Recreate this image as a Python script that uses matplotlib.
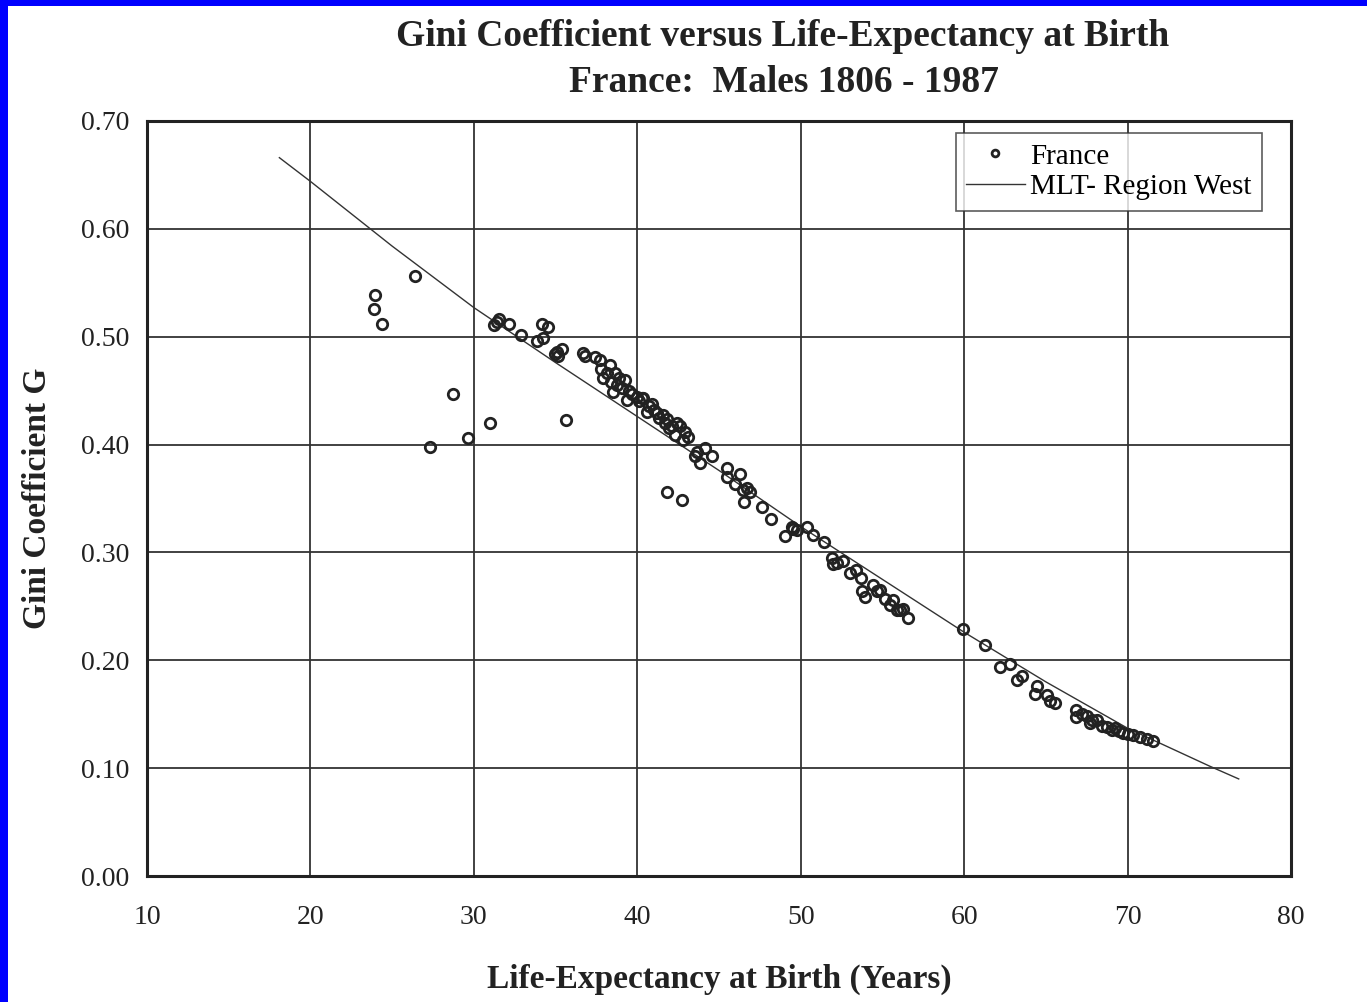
import matplotlib
matplotlib.use("Agg")
import matplotlib.pyplot as plt
from matplotlib.patches import Rectangle

# ---- data ----
france_e0 = [23.95, 23.89, 24.40, 26.40, 27.33, 28.70, 29.62, 30.99, 31.25, 31.40,
             31.55, 32.15, 32.88, 33.84, 34.14, 34.25, 34.55, 34.96, 35.17, 35.37,
             35.10, 35.64, 36.66, 36.80, 37.41, 37.72, 37.78, 37.90, 38.13, 38.33,
             38.40, 38.53, 38.64, 38.75, 38.90, 39.05, 39.25, 39.35, 39.50, 39.70,
             39.96, 40.10, 40.26, 40.37, 40.57, 40.70, 40.88, 41.00, 41.19, 41.35,
             41.59, 41.70, 41.80, 41.95, 42.10, 42.31, 42.45, 42.61, 42.82, 42.95,
             43.13, 41.84, 42.72, 43.53, 43.65, 43.84, 44.14, 44.55, 45.47, 45.47,
             45.98, 46.28, 46.49, 46.53, 46.70, 46.90, 47.61, 48.16, 49.04, 49.45,
             49.55, 49.75, 50.36, 50.73, 51.42, 51.89, 51.99, 52.19, 52.60, 53.01,
             53.38, 53.66, 53.73, 53.93, 54.40, 54.64, 54.85, 55.15, 55.46, 55.63,
             55.87, 56.08, 56.28, 56.59, 59.91, 61.27, 62.19, 62.81, 63.21, 63.52,
             64.33, 64.44, 65.05, 65.25, 65.56, 66.84, 66.84, 67.20, 67.50, 67.71,
             67.81, 68.11, 68.42, 68.73, 69.03, 69.24, 69.50, 69.75, 70.05, 70.36,
             70.77, 71.18, 71.58]
france_gini = [0.539, 0.526, 0.512, 0.556, 0.398, 0.447, 0.406, 0.420, 0.511, 0.514,
               0.516, 0.512, 0.502, 0.496, 0.512, 0.499, 0.509, 0.484, 0.482, 0.489,
               0.486, 0.423, 0.485, 0.482, 0.481, 0.478, 0.470, 0.462, 0.466, 0.474,
               0.458, 0.449, 0.466, 0.455, 0.462, 0.452, 0.460, 0.441, 0.450, 0.447,
               0.444, 0.440, 0.443, 0.443, 0.430, 0.436, 0.438, 0.432, 0.429, 0.425,
               0.427, 0.420, 0.424, 0.415, 0.417, 0.409, 0.420, 0.417, 0.404, 0.412,
               0.407, 0.356, 0.349, 0.389, 0.393, 0.383, 0.397, 0.389, 0.378, 0.370,
               0.363, 0.373, 0.358, 0.347, 0.360, 0.356, 0.342, 0.331, 0.315, 0.324,
               0.322, 0.321, 0.324, 0.316, 0.310, 0.295, 0.289, 0.290, 0.292, 0.281,
               0.284, 0.276, 0.264, 0.259, 0.270, 0.264, 0.265, 0.257, 0.251, 0.256,
               0.247, 0.247, 0.248, 0.239, 0.229, 0.214, 0.194, 0.197, 0.182, 0.185,
               0.169, 0.176, 0.168, 0.162, 0.160, 0.154, 0.147, 0.150, 0.148, 0.142,
               0.145, 0.145, 0.139, 0.138, 0.135, 0.137, 0.134, 0.133, 0.132, 0.131,
               0.129, 0.127, 0.125]

mlt_e0 = [18.1, 20, 25, 30, 35, 40, 45, 50, 55, 60, 65, 70, 75, 76.8]
mlt_gini = [0.666, 0.644, 0.584, 0.527, 0.476, 0.426, 0.376, 0.324, 0.275, 0.226,
            0.180, 0.137, 0.102, 0.090]

x_ticks = [10, 20, 30, 40, 50, 60, 70, 80]
y_ticks = [0.0, 0.1, 0.2, 0.3, 0.4, 0.5, 0.6, 0.7]

title_line1 = "Gini Coefficient versus Life-Expectancy at Birth"
title_line2 = "France:  Males 1806 - 1987"

# ---- figure ----
plt.rcParams['font.family'] = ['Liberation Serif', 'DejaVu Serif']
fig = plt.figure(figsize=(13.67, 10.02), dpi=100)
fig.patch.set_facecolor('white')
# blue scan border (left and top)
fig.patches.append(Rectangle((0, 0), 8 / 1367, 1, transform=fig.transFigure,
                             facecolor='#0000ff', edgecolor='none', zorder=10))
fig.patches.append(Rectangle((0, 1 - 6 / 1002), 1, 6 / 1002, transform=fig.transFigure,
                             facecolor='#0000ff', edgecolor='none', zorder=10))

ax = fig.add_axes([147 / 1367, 1 - 876 / 1002, (1291 - 147) / 1367, (876 - 121) / 1002])
ax.set_xlim(10, 80)
ax.set_ylim(0, 0.70)
ax.set_xticks(x_ticks)
ax.set_yticks(y_ticks)
ax.set_xticklabels([str(v) for v in x_ticks])
ax.set_yticklabels([f"{v:.2f}" for v in y_ticks])
ax.tick_params(axis='both', length=0, labelsize=20, colors='#222222')
ax.tick_params(axis='x', pad=21)
ax.tick_params(axis='y', pad=13)
ax.grid(True, color='#333333', linewidth=1.3)
ax.set_axisbelow(True)
for s in ax.spines.values():
    s.set_linewidth(2.2)
    s.set_color('#222222')

ax.plot(mlt_e0, mlt_gini, color='#333333', linewidth=1.0, label='MLT- Region West', zorder=3)
ax.plot(france_e0, france_gini, linestyle='none', marker='o', markersize=7.5,
        markerfacecolor='none', markeredgecolor='#222222', markeredgewidth=2.0,
        label='France', zorder=4)

handles, labels = ax.get_legend_handles_labels()
leg = ax.legend(handles[::-1], labels[::-1], loc='upper right', bbox_to_anchor=(0.9747, 0.9841),
                borderaxespad=0, fontsize=21, frameon=True, fancybox=False,
                edgecolor='#333333', markerscale=0.65, handlelength=2.0,
                handletextpad=0.2, borderpad=0.35, labelspacing=0.15)
leg.get_frame().set_linewidth(1.2)

ax.set_xlabel("Life-Expectancy at Birth (Years)", fontsize=24, fontweight='bold',
              color='#222222', labelpad=24)
ax.set_ylabel("Gini Coefficient G", fontsize=24, fontweight='bold', color='#222222',
              labelpad=20)

fig.text(783 / 1367, 1 - 36 / 1002, title_line1, ha='center', va='center',
         fontsize=27, fontweight='bold', color='#222222')
fig.text(784 / 1367, 1 - 83 / 1002, title_line2, ha='center', va='center',
         fontsize=27, fontweight='bold', color='#222222')

fig.savefig("out.png", dpi=100)
